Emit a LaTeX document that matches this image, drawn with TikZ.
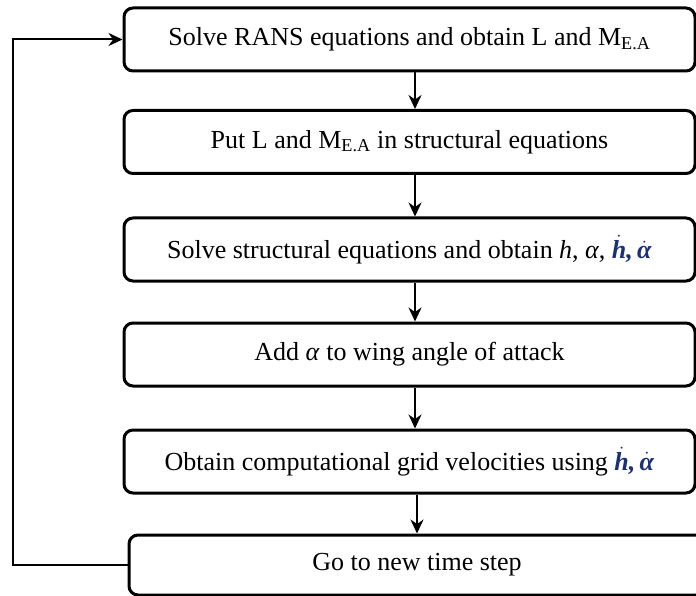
\documentclass[tikz,border=0pt]{standalone}
\usepackage{fontspec}
\setmainfont{Liberation Serif}
\usetikzlibrary{arrows.meta}
\definecolor{dotblue}{RGB}{28,48,118}
\newcommand{\dotsym}[1]{\textcolor{dotblue}{$\dot{\mbox{\textbf{\textit{#1}}}}$}}
\begin{document}
\begin{tikzpicture}[x=1pt,y=-1pt,
  flowbox/.style={draw, line width=3pt, rounded corners=9pt, minimum width=571pt,
    minimum height=63pt, inner sep=0pt, font=\fontsize{26}{30}\selectfont},
  conn/.style={line width=2pt},
  arr/.style={conn, -{Stealth[length=14pt,width=13pt]}}]
\useasboundingbox (0,0) rectangle (696,596);
\node[flowbox] (b1) at (409.5,39.5) {Solve RANS equations and obtain L and M\textsubscript{E.A}};
\node[flowbox] (b2) at (409.5,142) {Put L and M\textsubscript{E.A} in structural equations};
\node[flowbox] (b3) at (409.5,249.5) {Solve structural equations and obtain \textit{h}, \textit{α}, \dotsym{h}\textcolor{dotblue}{\textbf{\textit{,}}}\,\dotsym{α}};
\node[flowbox] (b4) at (409.5,354.5) {Add \textit{α} to wing angle of attack};
\node[flowbox] (b5) at (409.5,461.5) {Obtain computational grid velocities using \dotsym{h}\textcolor{dotblue}{\textbf{\textit{,}}}\,\dotsym{α}};
\node[flowbox, minimum width=576pt, minimum height=60pt] (b6) at (417,565) {Go to new time step};
\coordinate (ax) at (415,0);
\coordinate (lx) at (13,0);
\draw[arr] (b1.south -| ax) -- (b2.north -| ax);
\draw[arr] (b2.south -| ax) -- (b3.north -| ax);
\draw[arr] (b3.south -| ax) -- (b4.north -| ax);
\draw[arr] (b4.south -| ax) -- (b5.north -| ax);
\draw[arr] (b5.south -| b6.north) -- (b6.north);
\draw[arr] (b6.west) -- (b6.west -| lx) |- (b1.west);
\end{tikzpicture}
\end{document}
